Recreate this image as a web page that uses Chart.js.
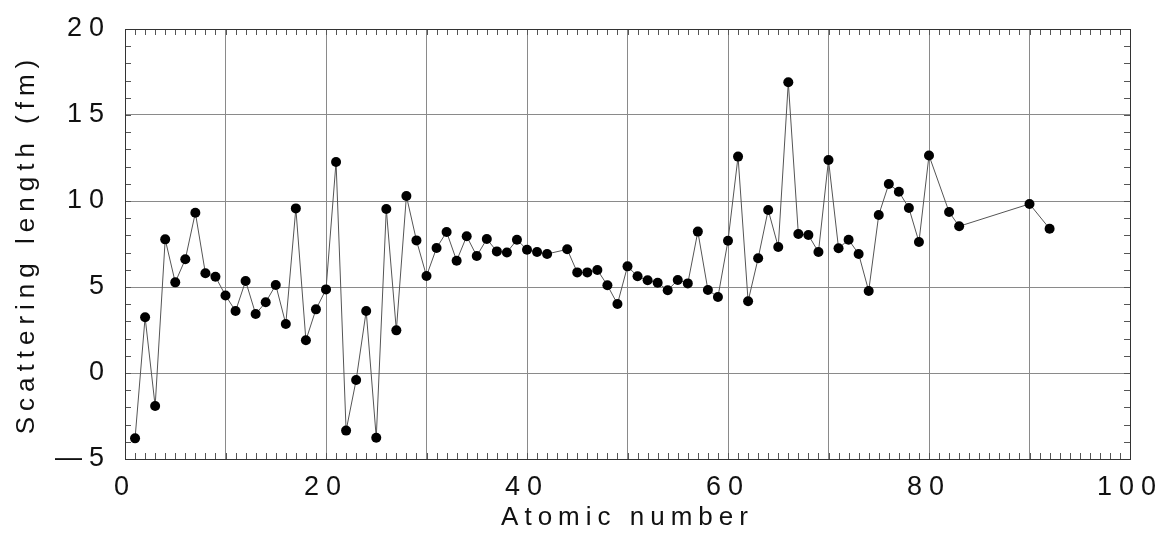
<!DOCTYPE html>
<html>
<head>
<meta charset="utf-8">
<script src="https://cdn.jsdelivr.net/npm/chart.js@4.4.0/dist/chart.umd.min.js"></script>
<style>
  html, body { margin: 0; padding: 0; background: #fff; }
  #wrap { width: 1161px; height: 541px; position: relative; }
</style>
</head>
<body>
<div id="wrap"><canvas id="chart"></canvas></div>
<script>
// atomic number / scattering length (fm)
const atomicNumbers = [
  1, 2, 3, 4, 5, 6, 7, 8, 9, 10,
  11, 12, 13, 14, 15, 16, 17, 18, 19, 20,
  21, 22, 23, 24, 25, 26, 27, 28, 29, 30,
  31, 32, 33, 34, 35, 36, 37, 38, 39, 40,
  41, 42, 44, 45, 46, 47, 48, 49, 50,
  51, 52, 53, 54, 55, 56, 57, 58, 59, 60,
  61, 62, 63, 64, 65, 66, 67, 68, 69, 70,
  71, 72, 73, 74, 75, 76, 77, 78, 79, 80,
  82, 83, 90, 92
];
const scatteringLengths = [
  -3.8, 3.24, -1.92, 7.77, 5.27, 6.61, 9.32, 5.8, 5.6, 4.51,
  3.6, 5.35, 3.43, 4.11, 5.12, 2.85, 9.57, 1.9, 3.7, 4.86,
  12.27, -3.35, -0.41, 3.6, -3.76, 9.53, 2.48, 10.29, 7.71, 5.64,
  7.27, 8.2, 6.53, 7.95, 6.8, 7.79, 7.07, 7.01, 7.75, 7.17,
  7.03, 6.92, 7.19, 5.85, 5.85, 5.99, 5.1, 4.01, 6.2,
  5.62, 5.39, 5.25, 4.81, 5.41, 5.21, 8.22, 4.83, 4.42, 7.69,
  12.58, 4.17, 6.67, 9.48, 7.33, 16.9, 8.08, 8.02, 7.03, 12.38,
  7.25, 7.75, 6.92, 4.77, 9.19, 10.99, 10.54, 9.59, 7.62, 12.65,
  9.36, 8.53, 9.83, 8.39
];
const xLabelValues = [0, 20, 40, 60, 80, 100];
const yTickValues = [-5, 0, 5, 10, 15, 20];
const yTickTexts = ['—5', '0', '5', '10', '15', '20'];

const points = atomicNumbers.map((z, i) => ({ x: z, y: scatteringLengths[i] }));
const FONT = "'Liberation Sans', Arial, sans-serif";

// рамка, дрібні засічки і розрядка літер
const framePlugin = {
  id: 'frame',
  beforeLayout(chart) { chart.ctx.letterSpacing = '0px'; },
  beforeDraw(chart) { chart.ctx.letterSpacing = '6px'; },     // axis titles
  afterDatasetsDraw(chart) { chart.ctx.letterSpacing = '7px'; }, // tick labels (z:1)
  afterDraw(chart) {
    const { ctx, chartArea: a, scales: { x, y } } = chart;
    ctx.save();
    ctx.letterSpacing = '0px';
    ctx.strokeStyle = '#555';
    ctx.lineWidth = 1;
    ctx.beginPath();
    for (let v = 0; v <= 100; v++) {
      const px = Math.round(x.getPixelForValue(v)) + 0.5;
      ctx.moveTo(px, a.bottom); ctx.lineTo(px, a.bottom - 6);
      ctx.moveTo(px, a.top); ctx.lineTo(px, a.top + 6);
    }
    for (let v = -5; v <= 20; v++) {
      const py = Math.round(y.getPixelForValue(v)) + 0.5;
      ctx.moveTo(a.left, py); ctx.lineTo(a.left + 6, py);
      ctx.moveTo(a.right, py); ctx.lineTo(a.right - 6, py);
    }
    ctx.stroke();
    ctx.strokeStyle = '#333';
    ctx.strokeRect(Math.round(a.left) + 0.5, Math.round(a.top) + 0.5,
      Math.round(a.right - a.left), Math.round(a.bottom - a.top));
    ctx.restore();
  }
};

new Chart(document.getElementById('chart'), {
  type: 'scatter',
  data: {
    datasets: [{
      data: points,
      showLine: true,
      borderColor: '#555',
      borderWidth: 1,
      pointRadius: 5,
      pointBackgroundColor: '#000',
      pointBorderWidth: 0,
      pointHoverRadius: 5
    }]
  },
  options: {
    responsive: true,
    maintainAspectRatio: false,
    animation: false,
    layout: { padding: { left: 0, top: 29, right: 31, bottom: 0 } },
    plugins: { legend: { display: false }, tooltip: { enabled: false } },
    scales: {
      x: {
        type: 'linear',
        min: 0,
        max: 100,
        afterFit(scale) {
          scale.height = 82;
          scale.paddingLeft = 0;
          scale.paddingRight = 0;
        },
        grid: { color: '#8a8a8a', lineWidth: 1, drawTicks: false },
        border: { display: false },
        ticks: {
          stepSize: 10,
          z: 1,
          padding: 12,
          color: '#111',
          font: { family: FONT, size: 27 },
          maxRotation: 0,
          autoSkip: false,
          callback: v => xLabelValues.includes(v) ? String(v) : ''
        },
        title: {
          display: true,
          text: 'Atomic number',
          color: '#111',
          font: { family: FONT, size: 26 },
          padding: { top: 0, bottom: 8 }
        }
      },
      y: {
        min: -5,
        max: 20,
        afterFit(scale) {
          scale.width = 125;
          scale.paddingTop = 0;
          scale.paddingBottom = 0;
        },
        grid: { color: '#8a8a8a', lineWidth: 1, drawTicks: false },
        border: { display: false },
        ticks: {
          stepSize: 5,
          z: 1,
          padding: 14,
          color: '#111',
          font: { family: FONT, size: 27 },
          callback: v => {
            const i = yTickValues.indexOf(v);
            return i >= 0 ? yTickTexts[i] : '';
          }
        },
        title: {
          display: true,
          text: 'Scattering length (fm)',
          color: '#111',
          font: { family: FONT, size: 26 },
          padding: { top: 11, bottom: 0 }
        }
      }
    }
  },
  plugins: [framePlugin]
});
</script>
</body>
</html>
